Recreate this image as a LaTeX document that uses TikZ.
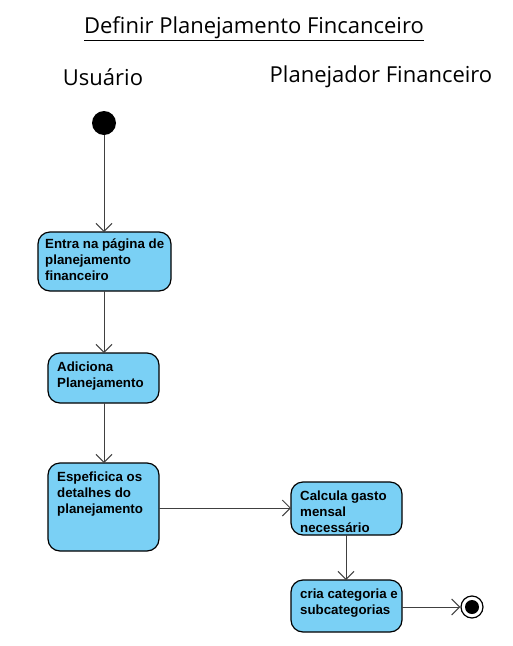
\documentclass[tikz,border=0pt]{standalone}
\usepackage{fontspec}
\setmainfont{Liberation Sans}
\newfontfamily\titlefont{Open Sans}
\usetikzlibrary{arrows.meta}
\tikzset{
  act/.style={draw=black, line width=1.2pt, fill=actblue, rounded corners=12pt, inner sep=0pt},
  acttext/.style={anchor=north west, align=left, font=\fontsize{13.3}{16}\selectfont\bfseries, inner sep=0pt},
  flow/.style={draw=flowgray, line width=1pt, -{Straight Barb[length=8pt,width=16pt,line width=1pt]}},
  lane/.style={font=\titlefont\fontsize{22}{26}\selectfont, inner sep=0pt}
}
\definecolor{actblue}{RGB}{122,208,245}
\definecolor{flowgray}{RGB}{64,64,64}
\begin{document}
\begin{tikzpicture}[x=1pt,y=-1pt]
\useasboundingbox (0,0) rectangle (512,646);
\node[lane] (title) at (254,29) {\underline{Definir Planejamento Fincanceiro}};
\node[lane] (u) at (103,77) {Usuário};
\node[lane] (pf) at (381,77) {Planejador Financeiro};
\node[circle, fill=black, minimum size=24pt, inner sep=0pt] (start) at (104,123) {};
\draw[act] (38,232) rectangle (171,291);
\node[acttext] (t1) at (45,239) {Entra na página de\\planejamento\\financeiro};
\coordinate (b1t) at (104,232); \coordinate (b1b) at (104,291);
\draw[act] (48,353) rectangle (159,403);
\node[acttext] (t2) at (57,362) {Adiciona\\Planejamento};
\coordinate (b2t) at (104,353); \coordinate (b2b) at (104,403);
\draw[act] (48,463) rectangle (159,551);
\node[acttext] (t3) at (57,472) {Espeficica os\\detalhes do\\planejamento};
\coordinate (b3t) at (104,463); \coordinate (b3r) at (159,508);
\draw[act] (291,482) rectangle (402,535);
\node[acttext] (t4) at (300,491) {Calcula gasto\\mensal\\necessário};
\coordinate (b4l) at (291,508); \coordinate (b4b) at (346,535);
\draw[act] (291,580) rectangle (402,632);
\node[acttext] (t5) at (300,589) {cria categoria e\\subcategorias};
\coordinate (b5t) at (346,580); \coordinate (b5r) at (402,607);
\node[circle, draw=black, line width=1.2pt, fill=white, minimum size=22pt, inner sep=0pt] (end) at (472,607) {};
\node[circle, fill=black, minimum size=14pt, inner sep=0pt] (endin) at (472,607) {};
\draw[flow] (start) -- (b1t);
\draw[flow] (b1b) -- (b2t);
\draw[flow] (b2b) -- (b3t);
\draw[flow] (b3r) -- (b4l);
\draw[flow] (b4b) -- (b5t);
\draw[flow] (b5r) -- (end);
\end{tikzpicture}
\end{document}
